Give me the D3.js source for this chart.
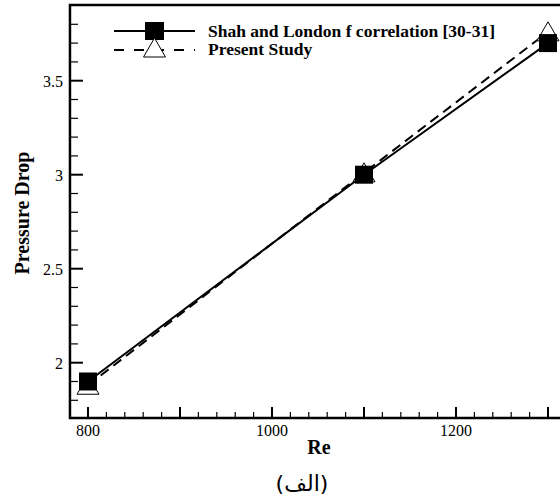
<!DOCTYPE html>
<html><head><meta charset="utf-8">
<script src="https://cdn.jsdelivr.net/npm/d3@7"></script>
<style>body{margin:0;background:#fff}svg{display:block}</style>
</head><body>
<script>
const reValues = [800, 1100, 1300];
const shahLondon = [1.90, 3.00, 3.70];
const presentStudy = [1.88, 3.01, 3.76];
const seriesNames = ["Shah and London f correlation [30-31]", "Present Study"];
const xLabelTicks = [800, 1000, 1200];
const yLabelTicks = [2, 2.5, 3, 3.5];
const xTitle = "Re", yTitle = "Pressure Drop", caption = "(الف)";

const W = 560, H = 498;
const svg = d3.select("body").append("svg").attr("width", W).attr("height", H);
const x = d3.scaleLinear().domain([800, 1300]).range([88, 548]);
const y = d3.scaleLinear().domain([2, 3.5]).range([362.7, 80.7]);
const xmin = 780.4, xmax = 1330, ymin = 1.706, ymax = 3.903;
const L = x(xmin), R = x(xmax), T = y(ymax), B = y(ymin);
const serif = "'Liberation Serif','Times New Roman',serif";

// frame
svg.append("path").attr("d", `M${L},${B}V${T}H${R}V${B}Z`).attr("fill", "none")
  .attr("stroke", "#000").attr("stroke-width", 2.5);

// x ticks
const xMinor = d3.range(800, 1301, 20), xMajor = d3.range(800, 1301, 100);
const g = svg.append("g").attr("stroke", "#000");
xMinor.forEach(v => { if (xMajor.includes(v)) return;
  g.append("line").attr("x1", x(v)).attr("x2", x(v)).attr("y1", B).attr("y2", B - 6).attr("stroke-width", 1.2); });
xMajor.forEach(v => g.append("line").attr("x1", x(v)).attr("x2", x(v)).attr("y1", B).attr("y2", B - 11).attr("stroke-width", 2));
// y ticks
const yMinor = d3.range(18, 39).map(d => d / 10), yMajor = [2, 2.5, 3, 3.5];
yMinor.forEach(v => { if (yMajor.some(m => Math.abs(m - v) < 1e-9)) return;
  g.append("line").attr("x1", L).attr("x2", L + 8).attr("y1", y(v)).attr("y2", y(v)).attr("stroke-width", 1.2); });
yMajor.forEach(v => g.append("line").attr("x1", L).attr("x2", L + 13).attr("y1", y(v)).attr("y2", y(v)).attr("stroke-width", 2));

// tick labels
svg.selectAll(".xl").data(xLabelTicks).enter().append("text")
  .attr("x", d => x(d)).attr("y", B + 18).attr("text-anchor", "middle")
  .attr("font-family", serif).attr("font-size", 16).text(d => d);
svg.selectAll(".yl").data(yLabelTicks).enter().append("text")
  .attr("x", L - 7).attr("y", d => y(d) + 6).attr("text-anchor", "end")
  .attr("font-family", serif).attr("font-size", 16).text(d => d);

// axis titles
svg.append("text").attr("x", 319).attr("y", 454).attr("text-anchor", "middle")
  .attr("font-family", serif).attr("font-weight", "bold").attr("font-size", 20).text(xTitle);
svg.append("text").attr("transform", `translate(29,213) rotate(-90)`).attr("text-anchor", "middle")
  .attr("font-family", serif).attr("font-weight", "bold").attr("font-size", 20).text(yTitle);
svg.append("text").attr("x", 302).attr("y", 491).attr("text-anchor", "middle")
  .attr("font-family", "'DejaVu Sans','Noto Sans',sans-serif").attr("font-size", 22).text(caption);

const line = d3.line().x(d => x(d[0])).y(d => y(d[1]));
const sq = 18;
const tri = (cx, cy) => `M${cx},${cy - 10}L${cx + 11},${cy + 9}L${cx - 11},${cy + 9}Z`;

const plot = svg.append("g");
const ps = reValues.map((r, i) => [r, presentStudy[i]]);
const sl = reValues.map((r, i) => [r, shahLondon[i]]);
plot.append("path").attr("d", line(ps)).attr("fill", "none").attr("stroke", "#000")
  .attr("stroke-width", 2).attr("stroke-dasharray", "10,6");
plot.selectAll(".tri").data(ps).enter().append("path")
  .attr("d", d => tri(x(d[0]), y(d[1]))).attr("fill", "#fff").attr("stroke", "#000").attr("stroke-width", 1);
plot.append("path").attr("d", line(sl)).attr("fill", "none").attr("stroke", "#000").attr("stroke-width", 2);
plot.selectAll(".sq").data(sl).enter().append("rect")
  .attr("x", d => x(d[0]) - sq / 2).attr("y", d => y(d[1]) - sq / 2)
  .attr("width", sq).attr("height", sq).attr("fill", "#000");

// legend
const lg = svg.append("g");
lg.append("line").attr("x1", 114).attr("x2", 195).attr("y1", 31).attr("y2", 31).attr("stroke", "#000").attr("stroke-width", 2);
lg.append("rect").attr("x", 145).attr("y", 22).attr("width", 19).attr("height", 18).attr("fill", "#000");
lg.append("line").attr("x1", 114).attr("x2", 195).attr("y1", 50).attr("y2", 50).attr("stroke", "#000")
  .attr("stroke-width", 2).attr("stroke-dasharray", "10,10");
lg.append("path").attr("d", tri(154.5, 48)).attr("fill", "#fff").attr("stroke", "#000").attr("stroke-width", 1);
lg.selectAll(".lt").data(seriesNames).enter().append("text")
  .attr("x", 208).attr("y", (d, i) => 36.5 + i * 18.5)
  .attr("font-family", serif).attr("font-weight", "bold").attr("font-size", 17.5).text(d => d);
</script>
</body></html>
